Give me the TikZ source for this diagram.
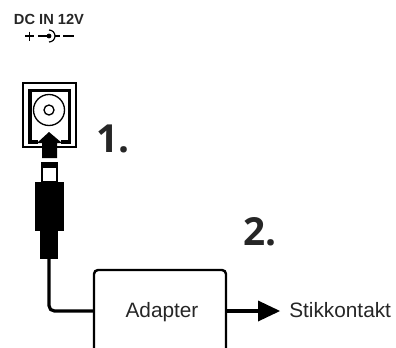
\documentclass[tikz,border=0pt]{standalone}
\usepackage{fontspec}
\setmainfont{Liberation Sans}
\newfontfamily\stepfont{Open Sans}
\tikzset{
    steplabel/.style={inner sep=0pt, text=black!85, font=\stepfont\bfseries\fontsize{29}{29}\selectfont},
    plainlabel/.style={inner sep=0pt, text=black!85, font=\fontsize{15.6}{16}\selectfont},
    wire/.style={line width=2.4pt, rounded corners=4pt},
    solid black/.style={fill=black, draw=none}
}
\begin{document}
\begin{tikzpicture}[x=0.75pt, y=-0.75pt]
    \useasboundingbox (0,0) rectangle (396,347);

    % Socket label and polarity mark
    \node[inner sep=0pt, font=\bfseries\fontsize{11}{12}\selectfont, text=black!85] (dcin) at (49,19) {DC IN 12V};
    \draw[line width=1pt] (25,36) -- (34,36) (29.5,31.5) -- (29.5,40.5);
    \draw[line width=0.9pt] (38,36) -- (49,36);
    \draw[line width=0.9pt] (49,30) arc (-90:90:6);
    \fill (49,36) circle (2.4);
    \draw[line width=0.9pt] (55,36) -- (60,36) (63,36) -- (74,36);

    % Socket
    \draw[line width=0.9pt, fill=white] (23,83) rectangle (76,147);
    \draw[line width=2.4pt] (38,142) -- (30,142) -- (30,90.5) -- (69.5,90.5) -- (69.5,142) -- (61,142);
    \draw[line width=1pt] (49,110) circle (15.5);
    \draw[line width=1pt] (49,110) circle (5);

    % Push arrow into the socket
    \fill[solid black] (49,132) -- (62,143) -- (57,143) -- (57,158) -- (42,158) -- (42,143) -- (37,143) -- cycle;

    % Plug
    \draw[line width=0.9pt] (42,167) rectangle (57,182);
    \fill[solid black] (41,162) rectangle (58,168);
    \fill[solid black] (35,182) rectangle (64,231);
    \fill[solid black] (40,231) rectangle (58,259);
    \coordinate (plugend) at (49,258);

    % Step numbers
    \node[steplabel, anchor=west] (stepone) at (96,139) {1.};
    \node[steplabel, anchor=west] (steptwo) at (243,232) {2.};

    % Adapter and outlet
    \draw[line width=1.8pt, rounded corners=3pt] (94,350) -- (94,270) -- (226,270) -- (226,350);
    \node[plainlabel] (adapter) at (162,312) {Adapter};
    \coordinate (adapterleft) at (94,311);
    \coordinate (adapterright) at (226,311);
    \node[plainlabel, anchor=west] (outlet) at (289,310) {Stikkontakt};
    \draw[wire] (plugend) |- (adapterleft);
    \coordinate (headbase) at (258,311);
    \draw[line width=2.4pt] (adapterright) -- (headbase);
    \fill[solid black] (280,311) -- (258,300.5) -- (258,321.5) -- cycle;

\end{tikzpicture}
\end{document}
